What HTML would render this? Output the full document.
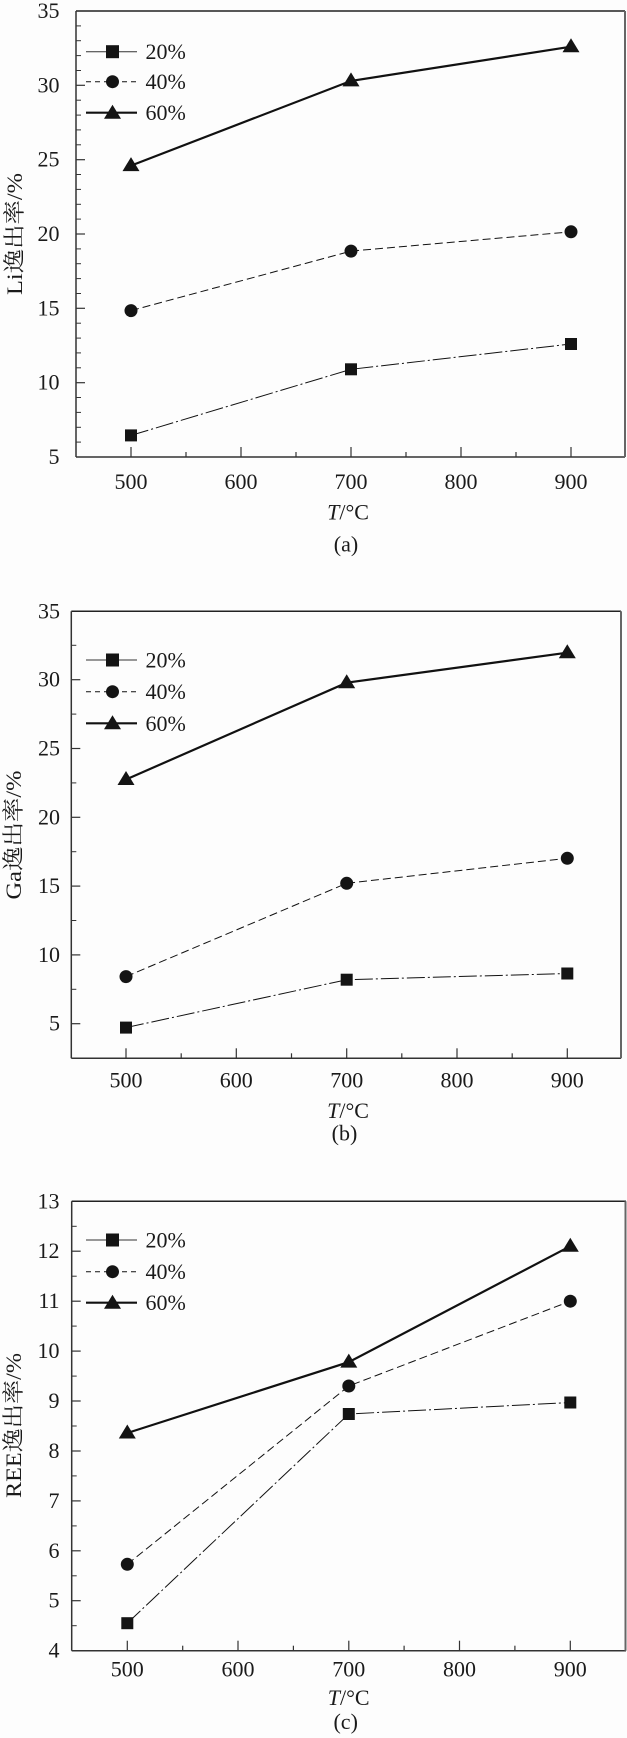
<!DOCTYPE html>
<html>
<head>
<meta charset="utf-8">
<style>
html,body{margin:0;padding:0;background:#fff;}
svg{display:block;}
text{font-family:"Liberation Serif","Noto Serif CJK SC",serif;fill:#1a1a1a;}
</style>
</head>
<body>
<svg width="627" height="1738" viewBox="0 0 627 1738" xmlns="http://www.w3.org/2000/svg">
<rect width="627" height="1738" fill="#fdfdfd"/>

<!-- ================= PANEL A ================= -->
<g>
  <!-- frame -->
  <line x1="76" y1="11" x2="625" y2="11" stroke="#222" stroke-width="1.5"/>
  <line x1="76" y1="11" x2="76" y2="457" stroke="#333" stroke-width="1.5"/>
  <line x1="76" y1="457" x2="625" y2="457" stroke="#333" stroke-width="1.5"/>
  <line x1="625" y1="11" x2="625" y2="457" stroke="#666" stroke-width="2"/>
  <!-- y major ticks -->
  <g stroke="#333" stroke-width="1.2">
    <line x1="76" y1="382.7" x2="85" y2="382.7"/>
    <line x1="76" y1="308.3" x2="85" y2="308.3"/>
    <line x1="76" y1="234" x2="85" y2="234"/>
    <line x1="76" y1="159.7" x2="85" y2="159.7"/>
    <line x1="76" y1="85.3" x2="85" y2="85.3"/>
  </g>
  <!-- y minor ticks -->
  <g stroke="#333" stroke-width="1">
    <line x1="76" y1="442.1" x2="81" y2="442.1"/><line x1="76" y1="427.3" x2="81" y2="427.3"/><line x1="76" y1="412.4" x2="81" y2="412.4"/><line x1="76" y1="397.5" x2="81" y2="397.5"/>
    <line x1="76" y1="367.8" x2="81" y2="367.8"/><line x1="76" y1="352.9" x2="81" y2="352.9"/><line x1="76" y1="338.1" x2="81" y2="338.1"/><line x1="76" y1="323.2" x2="81" y2="323.2"/>
    <line x1="76" y1="293.5" x2="81" y2="293.5"/><line x1="76" y1="278.6" x2="81" y2="278.6"/><line x1="76" y1="263.7" x2="81" y2="263.7"/><line x1="76" y1="248.9" x2="81" y2="248.9"/>
    <line x1="76" y1="219.1" x2="81" y2="219.1"/><line x1="76" y1="204.3" x2="81" y2="204.3"/><line x1="76" y1="189.4" x2="81" y2="189.4"/><line x1="76" y1="174.5" x2="81" y2="174.5"/>
    <line x1="76" y1="144.8" x2="81" y2="144.8"/><line x1="76" y1="129.9" x2="81" y2="129.9"/><line x1="76" y1="115.1" x2="81" y2="115.1"/><line x1="76" y1="100.2" x2="81" y2="100.2"/>
    <line x1="76" y1="70.5" x2="81" y2="70.5"/><line x1="76" y1="55.6" x2="81" y2="55.6"/><line x1="76" y1="40.7" x2="81" y2="40.7"/><line x1="76" y1="25.9" x2="81" y2="25.9"/>
  </g>
  <!-- x ticks -->
  <g stroke="#333" stroke-width="1.2">
    <line x1="131" y1="457" x2="131" y2="447"/><line x1="241" y1="457" x2="241" y2="447"/><line x1="351" y1="457" x2="351" y2="447"/><line x1="461" y1="457" x2="461" y2="447"/><line x1="571" y1="457" x2="571" y2="447"/>
    <line x1="186" y1="457" x2="186" y2="452"/><line x1="296" y1="457" x2="296" y2="452"/><line x1="406" y1="457" x2="406" y2="452"/><line x1="516" y1="457" x2="516" y2="452"/>
  </g>
  <!-- y labels -->
  <g font-size="22" text-anchor="end">
    <text x="59.5" y="464">5</text>
    <text x="59.5" y="389.7">10</text>
    <text x="59.5" y="315.3">15</text>
    <text x="59.5" y="241">20</text>
    <text x="59.5" y="166.7">25</text>
    <text x="59.5" y="92.3">30</text>
    <text x="59.5" y="18">35</text>
  </g>
  <!-- x labels -->
  <g font-size="22" text-anchor="middle">
    <text x="131" y="489">500</text>
    <text x="241" y="489">600</text>
    <text x="351" y="489">700</text>
    <text x="461" y="489">800</text>
    <text x="571" y="489">900</text>
  </g>
  <text x="348" y="519.5" font-size="22" text-anchor="middle"><tspan font-style="italic">T</tspan>/°C</text>
  <text x="346" y="551.5" font-size="22" text-anchor="middle">(a)</text>
  <text transform="translate(22,234) rotate(-90)" font-size="22" text-anchor="middle" textLength="122" lengthAdjust="spacingAndGlyphs">Li逸出率/%</text>

  <!-- series -->
  <polyline points="131,165.6 351,80.9 571,46.7" fill="none" stroke="#111" stroke-width="2.2"/>
  <polyline points="131,310.6 351,251.1 571,231.8" fill="none" stroke="#111" stroke-width="1" stroke-dasharray="8,4"/>
  <polyline points="131,435.4 351,369.3 571,344" fill="none" stroke="#111" stroke-width="1" stroke-dasharray="18,3,2,3"/>
  <g fill="#141414">
    <polygon points="131,157.1 122.5,171.1 139.5,171.1"/>
    <polygon points="351,72.4 342.5,86.4 359.5,86.4"/>
    <polygon points="571,38.2 562.5,52.2 579.5,52.2"/>
    <circle cx="131" cy="310.6" r="6.5"/>
    <circle cx="351" cy="251.1" r="6.5"/>
    <circle cx="571" cy="231.8" r="6.5"/>
    <rect x="125" y="429.4" width="12" height="12"/>
    <rect x="345" y="363.3" width="12" height="12"/>
    <rect x="565" y="338" width="12" height="12"/>
  </g>
  <!-- legend -->
  <line x1="86" y1="51.7" x2="137" y2="51.7" stroke="#333" stroke-width="1"/>
  <rect x="106" y="45.2" width="13" height="13" fill="#141414"/>
  <line x1="86" y1="81.7" x2="137" y2="81.7" stroke="#111" stroke-width="1" stroke-dasharray="5,4"/>
  <circle cx="112.5" cy="81.7" r="6.5" fill="#141414"/>
  <line x1="86" y1="112.7" x2="137" y2="112.7" stroke="#111" stroke-width="2.2"/>
  <polygon points="112.5,104.7 104,118.7 121,118.7" fill="#141414"/>
  <g font-size="22">
    <text x="145.5" y="59.2">20%</text>
    <text x="145.5" y="89.2">40%</text>
    <text x="145.5" y="120.2">60%</text>
  </g>
</g>

<!-- ================= PANEL B ================= -->
<g>
  <line x1="71.3" y1="611.3" x2="621" y2="611.3" stroke="#222" stroke-width="1.5"/>
  <line x1="71.3" y1="611.3" x2="71.3" y2="1058.3" stroke="#333" stroke-width="1.5"/>
  <line x1="71.3" y1="1058.3" x2="621" y2="1058.3" stroke="#333" stroke-width="1.5"/>
  <line x1="621" y1="611.3" x2="621" y2="1058.3" stroke="#666" stroke-width="2"/>
  <g stroke="#333" stroke-width="1.2">
    <line x1="71.3" y1="1023.7" x2="80.3" y2="1023.7"/>
    <line x1="71.3" y1="954.9" x2="80.3" y2="954.9"/>
    <line x1="71.3" y1="886.1" x2="80.3" y2="886.1"/>
    <line x1="71.3" y1="817.3" x2="80.3" y2="817.3"/>
    <line x1="71.3" y1="748.5" x2="80.3" y2="748.5"/>
    <line x1="71.3" y1="679.7" x2="80.3" y2="679.7"/>
  </g>
  <g stroke="#333" stroke-width="1">
    <line x1="71.3" y1="989.3" x2="76.3" y2="989.3"/>
    <line x1="71.3" y1="920.5" x2="76.3" y2="920.5"/>
    <line x1="71.3" y1="851.7" x2="76.3" y2="851.7"/>
    <line x1="71.3" y1="782.9" x2="76.3" y2="782.9"/>
    <line x1="71.3" y1="714.1" x2="76.3" y2="714.1"/>
    <line x1="71.3" y1="645.3" x2="76.3" y2="645.3"/>
  </g>
  <g stroke="#333" stroke-width="1.2">
    <line x1="126" y1="1058.3" x2="126" y2="1048.3"/><line x1="236.3" y1="1058.3" x2="236.3" y2="1048.3"/><line x1="346.7" y1="1058.3" x2="346.7" y2="1048.3"/><line x1="457" y1="1058.3" x2="457" y2="1048.3"/><line x1="567.3" y1="1058.3" x2="567.3" y2="1048.3"/>
    <line x1="181.2" y1="1058.3" x2="181.2" y2="1053.3"/><line x1="291.5" y1="1058.3" x2="291.5" y2="1053.3"/><line x1="401.8" y1="1058.3" x2="401.8" y2="1053.3"/><line x1="512.2" y1="1058.3" x2="512.2" y2="1053.3"/>
  </g>
  <g font-size="22" text-anchor="end">
    <text x="60" y="1030.7">5</text>
    <text x="60" y="961.9">10</text>
    <text x="60" y="893.1">15</text>
    <text x="60" y="824.3">20</text>
    <text x="60" y="755.5">25</text>
    <text x="60" y="686.7">30</text>
    <text x="60" y="618.3">35</text>
  </g>
  <g font-size="22" text-anchor="middle">
    <text x="126" y="1087.4">500</text>
    <text x="236.3" y="1087.4">600</text>
    <text x="346.7" y="1087.4">700</text>
    <text x="457" y="1087.4">800</text>
    <text x="567.3" y="1087.4">900</text>
  </g>
  <text x="348" y="1118" font-size="22" text-anchor="middle"><tspan font-style="italic">T</tspan>/°C</text>
  <text x="344.5" y="1140.6" font-size="22" text-anchor="middle">(b)</text>
  <text transform="translate(21,835) rotate(-90)" font-size="22" text-anchor="middle" textLength="129" lengthAdjust="spacingAndGlyphs">Ga逸出率/%</text>

  <polyline points="126,779.5 346.7,682.7 567.3,652.7" fill="none" stroke="#111" stroke-width="2.2"/>
  <polyline points="126,976.6 346.7,883.3 567.3,858.3" fill="none" stroke="#111" stroke-width="1" stroke-dasharray="8,4"/>
  <polyline points="126,1027.6 346.7,979.7 567.3,973.5" fill="none" stroke="#111" stroke-width="1" stroke-dasharray="18,3,2,3"/>
  <g fill="#141414">
    <polygon points="126,771 117.5,785 134.5,785"/>
    <polygon points="346.7,674.2 338.2,688.2 355.2,688.2"/>
    <polygon points="567.3,644.2 558.8,658.2 575.8,658.2"/>
    <circle cx="126" cy="976.6" r="6.5"/>
    <circle cx="346.7" cy="883.3" r="6.5"/>
    <circle cx="567.3" cy="858.3" r="6.5"/>
    <rect x="120" y="1021.6" width="12" height="12"/>
    <rect x="340.7" y="973.7" width="12" height="12"/>
    <rect x="561.3" y="967.5" width="12" height="12"/>
  </g>
  <line x1="86" y1="660" x2="137" y2="660" stroke="#333" stroke-width="1"/>
  <rect x="106" y="653.5" width="13" height="13" fill="#141414"/>
  <line x1="86" y1="691.7" x2="137" y2="691.7" stroke="#111" stroke-width="1" stroke-dasharray="5,4"/>
  <circle cx="112.5" cy="691.7" r="6.5" fill="#141414"/>
  <line x1="86" y1="723.3" x2="137" y2="723.3" stroke="#111" stroke-width="2.2"/>
  <polygon points="112.5,715.3 104,729.3 121,729.3" fill="#141414"/>
  <g font-size="22">
    <text x="145.5" y="667.5">20%</text>
    <text x="145.5" y="699.2">40%</text>
    <text x="145.5" y="730.8">60%</text>
  </g>
</g>

<!-- ================= PANEL C ================= -->
<g>
  <line x1="71.7" y1="1201.3" x2="626" y2="1201.3" stroke="#222" stroke-width="1.5"/>
  <line x1="71.7" y1="1201.3" x2="71.7" y2="1650.7" stroke="#333" stroke-width="1.5"/>
  <line x1="71.7" y1="1650.7" x2="626" y2="1650.7" stroke="#333" stroke-width="1.5"/>
  <line x1="625.5" y1="1201.3" x2="625.5" y2="1650.7" stroke="#666" stroke-width="2"/>
  <g stroke="#333" stroke-width="1.2">
    <line x1="71.7" y1="1600.7" x2="80.7" y2="1600.7"/>
    <line x1="71.7" y1="1550.8" x2="80.7" y2="1550.8"/>
    <line x1="71.7" y1="1500.9" x2="80.7" y2="1500.9"/>
    <line x1="71.7" y1="1451" x2="80.7" y2="1451"/>
    <line x1="71.7" y1="1401" x2="80.7" y2="1401"/>
    <line x1="71.7" y1="1351.1" x2="80.7" y2="1351.1"/>
    <line x1="71.7" y1="1301.2" x2="80.7" y2="1301.2"/>
    <line x1="71.7" y1="1251.2" x2="80.7" y2="1251.2"/>
  </g>
  <g stroke="#333" stroke-width="1">
    <line x1="71.7" y1="1625.7" x2="76.7" y2="1625.7"/>
    <line x1="71.7" y1="1575.8" x2="76.7" y2="1575.8"/>
    <line x1="71.7" y1="1525.9" x2="76.7" y2="1525.9"/>
    <line x1="71.7" y1="1475.9" x2="76.7" y2="1475.9"/>
    <line x1="71.7" y1="1426" x2="76.7" y2="1426"/>
    <line x1="71.7" y1="1376.1" x2="76.7" y2="1376.1"/>
    <line x1="71.7" y1="1326.1" x2="76.7" y2="1326.1"/>
    <line x1="71.7" y1="1276.2" x2="76.7" y2="1276.2"/>
    <line x1="71.7" y1="1226.3" x2="76.7" y2="1226.3"/>
  </g>
  <g stroke="#333" stroke-width="1.2">
    <line x1="127.3" y1="1650.7" x2="127.3" y2="1640.7"/><line x1="238" y1="1650.7" x2="238" y2="1640.7"/><line x1="348.8" y1="1650.7" x2="348.8" y2="1640.7"/><line x1="459.5" y1="1650.7" x2="459.5" y2="1640.7"/><line x1="570.3" y1="1650.7" x2="570.3" y2="1640.7"/>
    <line x1="182.7" y1="1650.7" x2="182.7" y2="1645.7"/><line x1="293.4" y1="1650.7" x2="293.4" y2="1645.7"/><line x1="404.1" y1="1650.7" x2="404.1" y2="1645.7"/><line x1="514.9" y1="1650.7" x2="514.9" y2="1645.7"/>
  </g>
  <g font-size="22" text-anchor="end">
    <text x="59.5" y="1657.7">4</text>
    <text x="59.5" y="1607.7">5</text>
    <text x="59.5" y="1557.8">6</text>
    <text x="59.5" y="1507.9">7</text>
    <text x="59.5" y="1458">8</text>
    <text x="59.5" y="1408">9</text>
    <text x="59.5" y="1358.1">10</text>
    <text x="59.5" y="1308.2">11</text>
    <text x="59.5" y="1258.2">12</text>
    <text x="59.5" y="1208.3">13</text>
  </g>
  <g font-size="22" text-anchor="middle">
    <text x="127.3" y="1676.7">500</text>
    <text x="238" y="1676.7">600</text>
    <text x="348.8" y="1676.7">700</text>
    <text x="459.5" y="1676.7">800</text>
    <text x="570.3" y="1676.7">900</text>
  </g>
  <text x="348.7" y="1705" font-size="22" text-anchor="middle"><tspan font-style="italic">T</tspan>/°C</text>
  <text x="345.7" y="1729" font-size="22" text-anchor="middle">(c)</text>
  <text transform="translate(21,1425.5) rotate(-90)" font-size="22" text-anchor="middle" textLength="145" lengthAdjust="spacingAndGlyphs">REE逸出率/%</text>

  <polyline points="127.3,1433 348.8,1362.1 570.3,1246.2" fill="none" stroke="#111" stroke-width="2.2"/>
  <polyline points="127.3,1564.3 348.8,1386 570.3,1301.2" fill="none" stroke="#111" stroke-width="1" stroke-dasharray="8,4"/>
  <polyline points="127.3,1623.2 348.8,1414 570.3,1402.5" fill="none" stroke="#111" stroke-width="1" stroke-dasharray="18,3,2,3"/>
  <g fill="#141414">
    <polygon points="127.3,1424.5 118.8,1438.5 135.8,1438.5"/>
    <polygon points="348.8,1353.6 340.3,1367.6 357.3,1367.6"/>
    <polygon points="570.3,1237.7 561.8,1251.7 578.8,1251.7"/>
    <circle cx="127.3" cy="1564.3" r="6.5"/>
    <circle cx="348.8" cy="1386" r="6.5"/>
    <circle cx="570.3" cy="1301.2" r="6.5"/>
    <rect x="121.3" y="1617.2" width="12" height="12"/>
    <rect x="342.8" y="1408" width="12" height="12"/>
    <rect x="564.3" y="1396.5" width="12" height="12"/>
  </g>
  <line x1="86" y1="1240" x2="137" y2="1240" stroke="#333" stroke-width="1"/>
  <rect x="106" y="1233.5" width="13" height="13" fill="#141414"/>
  <line x1="86" y1="1271.7" x2="137" y2="1271.7" stroke="#111" stroke-width="1" stroke-dasharray="5,4"/>
  <circle cx="112.5" cy="1271.7" r="6.5" fill="#141414"/>
  <line x1="86" y1="1302.7" x2="137" y2="1302.7" stroke="#111" stroke-width="2.2"/>
  <polygon points="112.5,1294.7 104,1308.7 121,1308.7" fill="#141414"/>
  <g font-size="22">
    <text x="145.5" y="1247.5">20%</text>
    <text x="145.5" y="1279.2">40%</text>
    <text x="145.5" y="1310.2">60%</text>
  </g>
</g>
</svg>
</body>
</html>
